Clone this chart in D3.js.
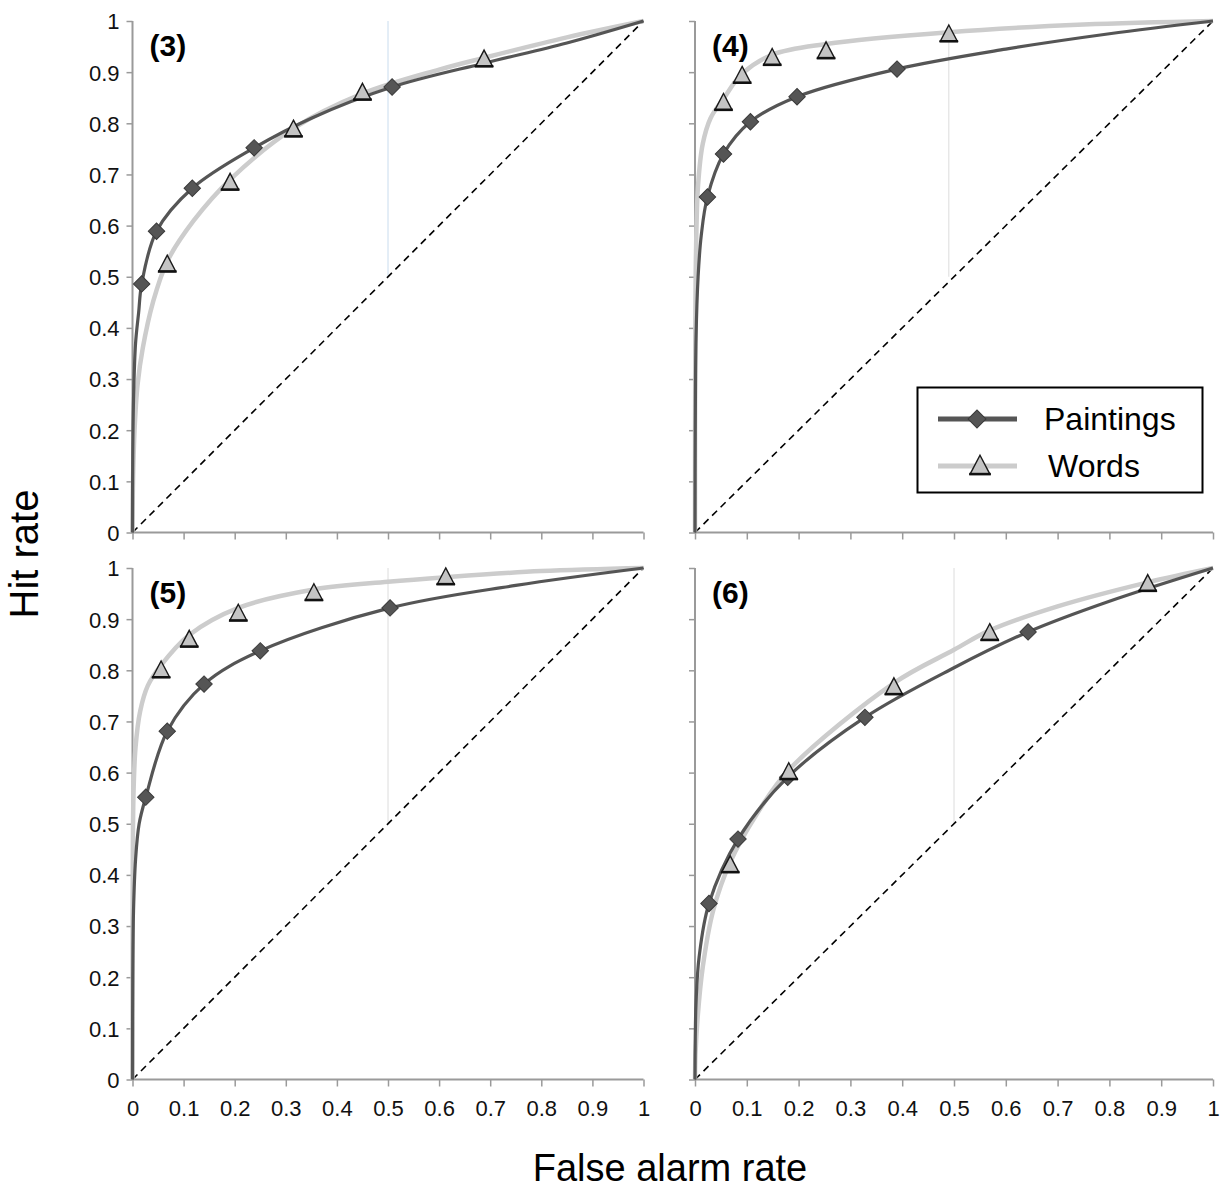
<!DOCTYPE html>
<html>
<head>
<meta charset="utf-8">
<script src="https://cdn.jsdelivr.net/npm/d3@7"></script>
<style>
  html, body { margin: 0; padding: 0; background: #fff; }
  svg { display: block; font-family: "Liberation Sans", Arial, Helvetica, sans-serif; }
</style>
</head>
<body>
<svg id="chart" width="1225" height="1192"></svg>
<script>
// ---- data -------------------------------------------------------------
const panelLabels = ["(3)", "(4)", "(5)", "(6)"];
const seriesNames = ["Paintings", "Words"];
const tickValues = [0, 0.1, 0.2, 0.3, 0.4, 0.5, 0.6, 0.7, 0.8, 0.9, 1];
const tickLabels = ["0", "0.1", "0.2", "0.3", "0.4", "0.5", "0.6", "0.7", "0.8", "0.9", "1"];

// observed [false alarm rate, hit rate] pairs
const paintings3 = [[0.018, 0.486], [0.047, 0.589], [0.117, 0.673], [0.238, 0.752], [0.508, 0.871]];
const words3     = [[0.068, 0.524], [0.191, 0.684], [0.315, 0.788], [0.450, 0.860], [0.688, 0.925]];
const paintings4 = [[0.024, 0.656], [0.055, 0.740], [0.107, 0.803], [0.197, 0.852], [0.390, 0.906]];
const words4     = [[0.055, 0.840], [0.091, 0.893], [0.149, 0.928], [0.253, 0.941], [0.490, 0.974]];
const paintings5 = [[0.026, 0.552], [0.068, 0.681], [0.140, 0.773], [0.250, 0.838], [0.504, 0.922]];
const words5     = [[0.056, 0.800], [0.111, 0.860], [0.207, 0.911], [0.355, 0.951], [0.613, 0.982]];
const paintings6 = [[0.027, 0.344], [0.083, 0.470], [0.179, 0.591], [0.328, 0.708], [0.643, 0.875]];
const words6     = [[0.068, 0.419], [0.181, 0.601], [0.384, 0.767], [0.569, 0.873], [0.874, 0.969]];

// fitted ROC curves, sampled along the drawn lines
const fitPaintings3 = [[0, 0], [0.0005, 0.15], [0.002, 0.26], [0.006, 0.37], [0.012, 0.43], [0.018, 0.486], [0.047, 0.589], [0.117, 0.673], [0.238, 0.752], [0.35, 0.81], [0.508, 0.871], [0.69, 0.918], [0.85, 0.957], [1, 1]];
const fitWords3     = [[0, 0], [0.001, 0.1], [0.004, 0.2], [0.01, 0.29], [0.02, 0.36], [0.04, 0.45], [0.068, 0.53], [0.12, 0.61], [0.191, 0.69], [0.315, 0.79], [0.45, 0.858], [0.6, 0.905], [0.688, 0.928], [0.85, 0.968], [1, 1]];
const fitPaintings4 = [[0, 0], [0.0005, 0.2], [0.002, 0.38], [0.006, 0.5], [0.012, 0.58], [0.024, 0.656], [0.055, 0.74], [0.107, 0.803], [0.197, 0.852], [0.39, 0.906], [0.6, 0.945], [0.8, 0.975], [1, 1]];
const fitWords4     = [[0, 0], [0.0005, 0.35], [0.002, 0.55], [0.006, 0.68], [0.015, 0.76], [0.03, 0.81], [0.055, 0.848], [0.091, 0.897], [0.149, 0.934], [0.253, 0.955], [0.49, 0.978], [0.75, 0.993], [1, 1]];
const fitPaintings5 = [[0, 0], [0.0005, 0.2], [0.002, 0.33], [0.006, 0.43], [0.013, 0.5], [0.026, 0.552], [0.068, 0.681], [0.14, 0.773], [0.25, 0.838], [0.504, 0.922], [0.75, 0.966], [1, 1]];
const fitWords5     = [[0, 0], [0.0005, 0.4], [0.002, 0.56], [0.006, 0.65], [0.015, 0.72], [0.03, 0.77], [0.056, 0.81], [0.111, 0.869], [0.207, 0.922], [0.355, 0.958], [0.5, 0.973], [0.613, 0.982], [0.8, 0.994], [1, 1]];
const fitPaintings6 = [[0, 0], [0.0005, 0.08], [0.002, 0.15], [0.008, 0.24], [0.027, 0.344], [0.083, 0.47], [0.179, 0.591], [0.328, 0.708], [0.5, 0.805], [0.643, 0.875], [0.8, 0.935], [1, 1]];
const fitWords6     = [[0, 0], [0.001, 0.05], [0.005, 0.12], [0.015, 0.22], [0.035, 0.33], [0.068, 0.425], [0.12, 0.52], [0.181, 0.605], [0.384, 0.775], [0.5, 0.84], [0.569, 0.878], [0.7, 0.925], [0.874, 0.972], [1, 1]];

// thin vertical guide in each panel: [x, top hit rate]
const guides = [[0.5, 1], [0.49, 0.974], [0.5, 1], [0.5, 1]];

// ---- layout -----------------------------------------------------------
const panels = [
  { label: panelLabels[0], p: paintings3, w: words3, fp: fitPaintings3, fw: fitWords3, x0: 132.5, x1: 643.5, yTop: 21, yBot: 532.5, xLabels: false, yLabels: true, guideColor: "#c9dcee" },
  { label: panelLabels[1], p: paintings4, w: words4, fp: fitPaintings4, fw: fitWords4, x0: 695, x1: 1213, yTop: 21, yBot: 532.5, xLabels: false, yLabels: false, guideColor: "#dcdcdc" },
  { label: panelLabels[2], p: paintings5, w: words5, fp: fitPaintings5, fw: fitWords5, x0: 132.5, x1: 643.5, yTop: 568, yBot: 1079.5, xLabels: true, yLabels: true, guideColor: "#dcdcdc" },
  { label: panelLabels[3], p: paintings6, w: words6, fp: fitPaintings6, fw: fitWords6, x0: 695, x1: 1213, yTop: 568, yBot: 1079.5, xLabels: true, yLabels: false, guideColor: "#dcdcdc" }
];

const colPaint = "#555555";
const colWords = "#cccccc";
const axisCol = "#9a9a9a";

const svg = d3.select("#chart");
svg.append("rect").attr("width", 1225).attr("height", 1192).attr("fill", "#fff");

function diamond(sel, size) {
  sel.attr("d", d3.symbol(d3.symbolSquare, size)())
     .attr("fill", colPaint).attr("stroke", "#3a3a3a").attr("stroke-width", 1);
}
function triangle(g, s) {
  // outlined triangle with heavier base
  g.append("path")
    .attr("d", `M0,${-s * 0.6}L${s * 0.55},${s * 0.45}L${-s * 0.55},${s * 0.45}Z`)
    .attr("fill", "#c4c4c4").attr("stroke", "#1a1a1a").attr("stroke-width", 1.4)
    .attr("stroke-linejoin", "miter");
  g.append("line")
    .attr("x1", -s * 0.6).attr("x2", s * 0.6).attr("y1", s * 0.45).attr("y2", s * 0.45)
    .attr("stroke", "#111").attr("stroke-width", 2.6);
}

panels.forEach((pn, i) => {
  const x = d3.scaleLinear().domain([0, 1]).range([pn.x0, pn.x1]);
  const y = d3.scaleLinear().domain([0, 1]).range([pn.yBot, pn.yTop]);
  const g = svg.append("g");

  // vertical guide
  g.append("line")
    .attr("x1", x(guides[i][0])).attr("x2", x(guides[i][0]))
    .attr("y1", y(guides[i][1])).attr("y2", y(0.5))
    .attr("stroke", pn.guideColor).attr("stroke-width", 1);

  // axes
  const xAxis = d3.axisBottom(x).tickValues(tickValues).tickSize(7)
    .tickFormat((d, k) => pn.xLabels ? tickLabels[k] : "");
  const yAxis = d3.axisLeft(y).tickValues(tickValues).tickSize(6)
    .tickFormat((d, k) => pn.yLabels ? tickLabels[k] : "");

  const gx = g.append("g").attr("transform", `translate(0,${pn.yBot})`).call(xAxis);
  const gy = g.append("g").attr("transform", `translate(${pn.x0},0)`).call(yAxis);
  [gx, gy].forEach(a => {
    a.select(".domain").attr("stroke", axisCol).attr("stroke-width", 2).attr("d",
      a === gx ? `M${pn.x0},0H${pn.x1}` : `M0,${pn.yBot}V${pn.yTop}`);
    a.selectAll(".tick line").attr("stroke", axisCol).attr("stroke-width", 1.5);
    a.selectAll(".tick text").attr("fill", "#111").attr("font-size", 22)
      .attr("font-family", "'Liberation Sans', Arial, sans-serif");
  });
  gx.selectAll(".tick text").attr("dy", "1.2em");
  gy.selectAll(".tick text").attr("x", -13).attr("dy", "0.36em");

  // chance diagonal
  g.append("line")
    .attr("x1", x(0)).attr("y1", y(0)).attr("x2", x(1)).attr("y2", y(1))
    .attr("stroke", "#000").attr("stroke-width", 1.6).attr("stroke-dasharray", "7,5");

  // fitted curves
  const line = d3.line().x(d => x(d[0])).y(d => y(d[1])).curve(d3.curveCatmullRom.alpha(0.5));
  g.append("path").datum(pn.fw).attr("d", line)
    .attr("fill", "none").attr("stroke", colWords).attr("stroke-width", 4.5);
  g.append("path").datum(pn.fp).attr("d", line)
    .attr("fill", "none").attr("stroke", colPaint).attr("stroke-width", 3.2);

  // observed points
  g.selectAll(".dia").data(pn.p).join("path").attr("class", "dia")
    .attr("transform", d => `translate(${x(d[0])},${y(d[1])}) rotate(45)`)
    .call(diamond, 135);
  g.selectAll(".tri").data(pn.w).join("g").attr("class", "tri")
    .attr("transform", d => `translate(${x(d[0])},${y(d[1])})`)
    .each(function () { triangle(d3.select(this), 15.5); });

  // panel label
  g.append("text").attr("x", pn.x0 + 17).attr("y", pn.yTop + 35)
    .attr("font-size", 30).attr("font-weight", "bold").attr("fill", "#000")
    .text(pn.label);
});

// legend
const lg = svg.append("g");
lg.append("rect").attr("x", 917.5).attr("y", 387.5).attr("width", 285).attr("height", 105)
  .attr("fill", "#fff").attr("stroke", "#000").attr("stroke-width", 2);
lg.append("line").attr("x1", 938).attr("x2", 1017).attr("y1", 419).attr("y2", 419)
  .attr("stroke", colPaint).attr("stroke-width", 5);
lg.append("path").attr("transform", "translate(977,419) rotate(45)").call(diamond, 160);
lg.append("line").attr("x1", 938).attr("x2", 1017).attr("y1", 466).attr("y2", 466)
  .attr("stroke", colWords).attr("stroke-width", 5);
triangle(lg.append("g").attr("transform", "translate(980,466)"), 18);
lg.append("text").attr("x", 1044).attr("y", 430).attr("font-size", 32).attr("fill", "#000").text(seriesNames[0]);
lg.append("text").attr("x", 1048).attr("y", 477).attr("font-size", 32).attr("fill", "#000").text(seriesNames[1]);

// axis titles
svg.append("text").attr("x", 670).attr("y", 1181).attr("text-anchor", "middle")
  .attr("font-size", 38).attr("fill", "#000").text("False alarm rate");
svg.append("text").attr("transform", "translate(38,554) rotate(-90)").attr("text-anchor", "middle")
  .attr("font-size", 40).attr("fill", "#000").text("Hit rate");
</script>
</body>
</html>
